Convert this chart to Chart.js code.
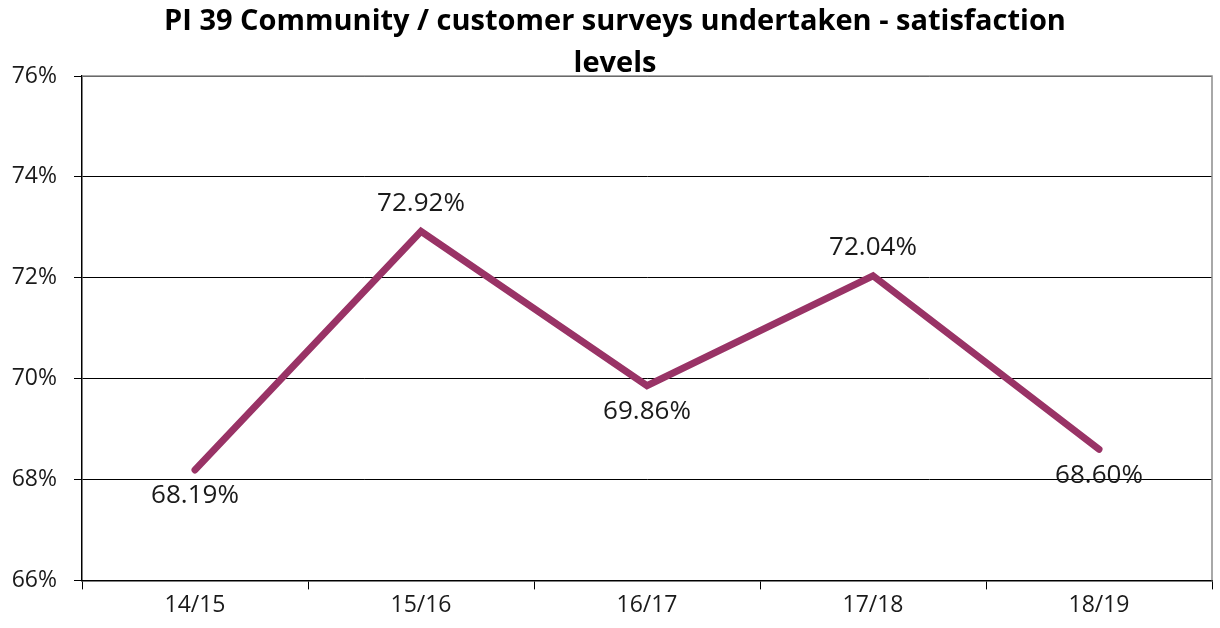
<!DOCTYPE html>
<html>
<head>
<meta charset="utf-8">
<script src="https://cdn.jsdelivr.net/npm/chart.js@4/dist/chart.umd.min.js"></script>
<style>
  html, body { margin: 0; padding: 0; background: #fff; }
  #wrap { width: 1220px; height: 628px; }
</style>
</head>
<body>
<div id="wrap"><canvas id="chart"></canvas></div>
<script>
const years = ['14/15', '15/16', '16/17', '17/18', '18/19'];
const satisfaction = [68.19, 72.92, 69.86, 72.04, 68.60];
const labelSide = ['below', 'above', 'below', 'above', 'below'];
const yTicks = [66, 68, 70, 72, 74, 76];
const titleLines = ['PI 39 Community / customer surveys undertaken - satisfaction', 'levels'];

const FONT = "'Open Sans', sans-serif";

// two-line heading, centred over the plot rather than the canvas
const heading = {
    id: 'heading',
    afterDraw(chart) {
        const { ctx, chartArea: a } = chart;
        const cx = (a.left + a.right) / 2 - 32;
        ctx.save();
        ctx.font = 'bold 29px ' + FONT;
        ctx.fillStyle = '#000';
        ctx.textAlign = 'center';
        ctx.textBaseline = 'middle';
        titleLines.forEach((line, i) => ctx.fillText(line, cx, 22 + i * 42));
        ctx.restore();
    }
};

// value labels above / below each point
const valueLabels = {
    id: 'valueLabels',
    afterDatasetsDraw(chart) {
        const ctx = chart.ctx;
        const meta = chart.getDatasetMeta(0);
        ctx.save();
        ctx.font = '26px ' + FONT;
        ctx.fillStyle = '#1a1a1a';
        ctx.textAlign = 'center';
        ctx.textBaseline = 'middle';
        meta.data.forEach((pt, i) => {
            const dy = labelSide[i] === 'above' ? -28 : 26;
            ctx.fillText(satisfaction[i].toFixed(2) + '%', pt.x, pt.y + dy);
        });
        ctx.restore();
    }
};

// grey frame on the top and right of the plot
const plotFrame = {
    id: 'plotFrame',
    beforeDatasetsDraw(chart) {
        const { ctx, chartArea: a } = chart;
        ctx.save();
        ctx.strokeStyle = '#8c8c8c';
        ctx.lineWidth = 1.5;
        ctx.beginPath();
        ctx.moveTo(a.left, a.top);
        ctx.lineTo(a.right, a.top);
        ctx.lineTo(a.right, a.bottom);
        ctx.stroke();
        ctx.restore();
    }
};

new Chart(document.getElementById('chart'), {
    type: 'line',
    data: {
        labels: years,
        datasets: [{
            data: satisfaction,
            borderColor: '#993366',
            backgroundColor: '#993366',
            borderWidth: 7,
            borderCapStyle: 'round',
            borderJoinStyle: 'miter',
            pointRadius: 0,
            tension: 0
        }]
    },
    options: {
        responsive: true,
        maintainAspectRatio: false,
        animation: false,
        layout: { padding: { left: 0, right: 8, top: 76, bottom: 7 } },
        plugins: {
            legend: { display: false },
            tooltip: { enabled: false },
            title: { display: false }
        },
        scales: {
            x: {
                offset: true,
                border: { color: '#000', width: 1.5 },
                grid: {
                    offset: true,
                    drawOnChartArea: false,
                    color: '#000',
                    tickLength: 9
                },
                ticks: {
                    color: '#1a1a1a',
                    padding: 2,
                    font: { family: FONT, size: 23 }
                }
            },
            y: {
                min: 66,
                max: 76,
                afterBuildTicks(axis) {
                    axis.ticks = yTicks.map(v => ({ value: v }));
                },
                afterFit(axis) {
                    axis.width = 82;
                },
                border: { color: '#000', width: 1.5 },
                grid: {
                    color: '#000',
                    lineWidth: 1,
                    tickLength: 8
                },
                ticks: {
                    color: '#1a1a1a',
                    padding: 17,
                    font: { family: FONT, size: 23 },
                    callback: v => v + '%'
                }
            }
        }
    },
    plugins: [valueLabels, plotFrame, heading]
});
</script>
</body>
</html>
